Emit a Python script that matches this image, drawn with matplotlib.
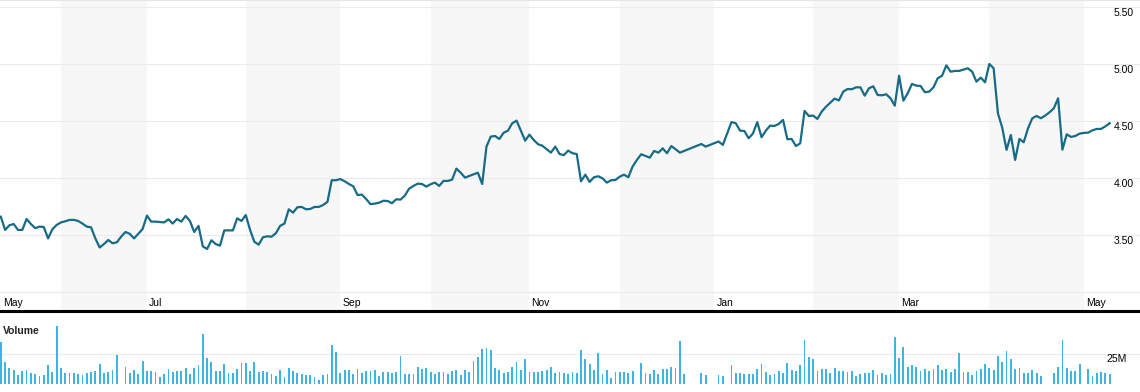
import numpy as np
import pandas as pd
import matplotlib
matplotlib.use("Agg")
import matplotlib.pyplot as plt
import matplotlib.transforms as mtransforms

plt.rcParams['font.family'] = ['Liberation Sans', 'DejaVu Sans']

# one value per weekday from start_date to end_date, None = no data that day
start_date = "2013-05-14"
end_date = "2014-05-09"

close = [
    3.66, 3.544, 3.585, 3.596, 3.544, 3.544, 3.64, 3.596, 3.56, 3.573,
    3.57, 3.47, 3.55, 3.588, 3.61, 3.62, 3.632, 3.632, 3.623, 3.60,
    3.573, 3.567, 3.47, 3.39, 3.42, 3.456, 3.427, 3.436, 3.485, 3.526,
    3.51, 3.47, 3.51, 3.553, 3.67, 3.617, 3.617, None, 3.61, 3.637,
    3.60, 3.64, 3.617, 3.667, 3.623, 3.526, 3.58, 3.40, 3.377, 3.453,
    3.42, 3.406, 3.54, 3.54, 3.54, 3.646, 3.623, 3.675, 3.544, 3.44,
    3.415, 3.48, 3.488, 3.485, 3.515, 3.58, 3.60, 3.725, 3.696, 3.743,
    3.746, 3.725, 3.728, 3.746, 3.746, 3.763, 3.79, 3.98, 3.98, 3.99,
    3.971, 3.947, 3.927, 3.85, 3.854, 3.816, 3.77, 3.775, 3.783, 3.80,
    3.798, 3.778, 3.813, 3.81, 3.845, 3.906, 3.93, 3.95, 3.947, 3.924,
    3.945, 3.959, 3.93, 3.974, 3.974, 3.985, 4.082, 4.046, 4.003, 4.018,
    4.032, 4.046, 3.947, 4.275, 4.363, 4.368, 4.342, 4.397, 4.415, 4.48,
    4.503, 4.415, 4.327, 4.38, 4.333, 4.296, 4.283, 4.252, 4.222, 4.275,
    4.21, 4.20, 4.24, 4.217, 4.21, 3.971, 4.029, 3.965, 4.006, 4.015,
    3.997, 3.959, 3.98, 3.982, 4.011, 4.029, 4.006, 4.10, 4.158, 4.208,
    4.193, 4.178, 4.237, 4.222, 4.26, 4.217, 4.28, 4.252, 4.222, None,
    None, None, None, 4.298, 4.275, None, None, 4.32, 4.29, None,
    4.49, 4.48, 4.415, 4.412, 4.348, 4.39, 4.49, 4.357, 4.415, 4.459,
    4.456, 4.474, 4.509, 4.34, 4.342, 4.28, 4.304, 4.588, 4.544, 4.547,
    4.518, 4.582, 4.625, 4.66, 4.696, 4.68, 4.757, 4.78, 4.778, 4.795,
    4.795, 4.722, 4.787, 4.804, 4.728, 4.725, 4.734, 4.699, 4.634, 4.897,
    4.678, 4.743, 4.825, 4.81, 4.807, 4.752, 4.757, 4.795, 4.875, 4.897,
    4.988, 4.932, 4.939, 4.939, 4.95, 4.962, 4.932, 4.845, 4.88, 4.839,
    5.0, 4.962, 4.567, 4.441, 4.246, 4.377, 4.158, 4.342, 4.313, 4.436,
    4.524, 4.544, 4.524, 4.547, 4.576, 4.611, 4.699, 4.248, 4.383, 4.36,
    4.368, 4.389, 4.395, 4.398, 4.418, 4.43, 4.43, 4.453, 4.48,
]

# volume in millions of shares
volume_m = [
    34.5, 18.0, 13.4, 11.6, 7.0, 10.7, 11.6, 8.8, 7.9, 6.4,
    7.0, 15.2, 9.8, 48.2, 13.4, 8.8, 8.8, 8.8, 7.9, 7.0,
    8.8, 9.8, 10.7, 16.2, 8.8, 9.8, 11.6, 24.4, None, 14.3,
    8.8, 11.6, 7.9, 18.9, 10.7, 10.7, 9.8, 5.2, 7.9, 12.5,
    9.8, 10.7, 10.7, 13.4, 7.9, 13.4, 15.2, 41.8, 21.6, 18.0,
    10.7, 10.7, 16.2, 8.8, 8.8, 12.5, 17.1, 17.1, 10.7, 18.0,
    9.8, 10.7, 9.8, 7.9, 6.1, 11.6, 5.2, 13.4, 10.7, 8.8,
    7.9, 7.0, 7.0, 5.2, 3.4, 7.0, 7.9, 32.6, 26.2, 8.8,
    11.6, 11.6, 7.9, 12.5, 8.8, 10.7, 10.7, 11.6, 6.1, 9.8,
    9.8, 8.8, 9.8, 23.5, 7.9, 7.9, 7.9, 14.3, 12.5, 13.4,
    9.8, 7.9, 9.8, 9.8, 7.9, 10.7, 11.6, 7.0, 11.6, 9.8,
    18.9, 22.6, 29.0, 29.9, 28.1, 13.4, 11.6, 8.8, 9.8, 14.3,
    18.0, 11.6, 20.7, 9.8, 9.8, 9.8, 10.7, 11.6, 14.3, 8.8,
    9.8, 8.8, 7.9, 9.8, 8.8, 28.1, 20.7, 16.2, 11.6, 25.3,
    7.9, 11.6, 4.3, 9.8, 9.8, 9.8, 8.8, 10.7, None, 17.1,
    8.8, 7.9, 11.6, 7.9, 12.5, 12.5, 14.3, 13.4, 35.4, 7.9,
    None, None, None, 8.8, 7.0, None, None, 7.0, 6.1, None,
    15.2, 8.8, 8.8, 7.9, 7.9, 7.9, 12.5, 16.2, 9.8, 7.0,
    7.9, 10.7, 8.8, 17.1, 11.6, 10.7, 15.2, 36.3, 22.6, 20.7,
    10.7, 12.5, 12.5, 8.8, 13.4, 10.7, 10.7, 9.8, 10.7, 6.1,
    7.9, 8.8, 8.8, 11.6, 7.0, 8.8, 7.0, 7.9, 39.0, 21.6,
    30.8, 14.3, 15.2, 14.3, 10.7, 12.5, 10.7, 12.5, 15.2, 11.6,
    12.5, 9.8, 12.5, 25.3, 9.8, 9.8, 7.0, 10.7, 12.5, 16.2,
    13.4, 11.6, 23.5, 18.0, 27.1, 20.7, 12.5, 13.4, 8.8, 8.8,
    11.6, 8.8, 6.1, None, None, 8.8, 14.3, 36.3, 13.4, 10.7,
    10.7, 16.2, None, 12.5, 6.1, 8.8, 9.8, 8.8, 7.9,
]

price_grid = [3.0, 3.5, 4.0, 4.5, 5.0, 5.5]
price_ticks = [3.5, 4.0, 4.5, 5.0, 5.5]
volume_ticks = [25]
volume_tick_labels = ["25M"]

LINE = "#176b87"
BAR = "#3cb5e6"
GRID = "#ebebeb"
SHADE = "#f7f7f7"

dates = pd.bdate_range(start_date, end_date)
x = np.arange(len(dates))
price = pd.Series(close, dtype=float)
vol = pd.Series(volume_m, dtype=float)

W, H = 1140, 392
fig = plt.figure(figsize=(W / 100, H / 100), dpi=100)
ax = fig.add_axes([0, (H - 311) / H, 1, 311 / H])
axv = fig.add_axes([0, (H - 383.6) / H, 1, 63.6 / H])

# pixel geometry of the day axis
step = 4.298
x_left = -0.8 / step
x_right = x_left + W / step

# even months shaded, odd months labelled
first = np.flatnonzero(np.r_[True, dates.month[1:] != dates.month[:-1]])
bounds = list(first) + [x_right]
lab_tr = mtransforms.blended_transform_factory(ax.transData, ax.transAxes)
for i, start in enumerate(first):
    if dates[start].month % 2 == 0:
        ax.axvspan(start, bounds[i + 1], color=SHADE, lw=0, zorder=0)
    else:
        ax.annotate(dates[start].strftime("%b"), xy=(start, 0.0257), xycoords=lab_tr,
                    xytext=(1.5, 0), textcoords="offset points",
                    ha="left", va="center", fontsize=7.5, color="black")

for v in price_grid:
    ax.axhline(v, color=GRID, lw=0.8, zorder=1)

ok = price.notna()
ax.plot(x[ok], price[ok], color=LINE, lw=1.6, zorder=3, solid_joinstyle="round")

tick_tr = mtransforms.blended_transform_factory(ax.transAxes, ax.transData)
for v in price_ticks:
    ax.annotate(f"{v:.2f}", xy=(1134 / W, v), xycoords=tick_tr,
                xytext=(0, -4.3), textcoords="offset points",
                ha="right", va="center", fontsize=7.5, color="black")

ax.set_xlim(x_left, x_right)
ax.set_ylim(2.833, 5.561)
ax.set_xticks([])
ax.set_yticks([])
for side in ["left", "right"]:
    ax.spines[side].set_visible(False)
ax.spines["top"].set_color("#e6e6e6")
ax.spines["top"].set_linewidth(0.8)
ax.spines["bottom"].set_color("black")
ax.spines["bottom"].set_linewidth(2.2)

# volume panel
okv = vol.notna()
axv.bar(x[okv], vol[okv], width=0.42, color=BAR, lw=0, zorder=2)
axv.axhline(0, color=GRID, lw=0.8, zorder=1)
for v in volume_ticks:
    axv.axhline(v, color=GRID, lw=0.8, zorder=1)
vtick_tr = mtransforms.blended_transform_factory(axv.transAxes, axv.transData)
for v, lab in zip(volume_ticks, volume_tick_labels):
    axv.annotate(lab, xy=(1127 / W, v), xycoords=vtick_tr,
                 xytext=(0, -3.8), textcoords="offset points",
                 ha="right", va="center", fontsize=7.5, color="black")
axv.text(3 / W, 0.827, "Volume", transform=axv.transAxes, ha="left", va="center",
         fontsize=7.5, fontweight="bold", color="#222222")
axv.set_xlim(x_left, x_right)
axv.set_ylim(0, 63.6 / 1.192)
axv.set_xticks([])
axv.set_yticks([])
for s in axv.spines.values():
    s.set_visible(False)

fig.savefig("out.png", dpi=100)
